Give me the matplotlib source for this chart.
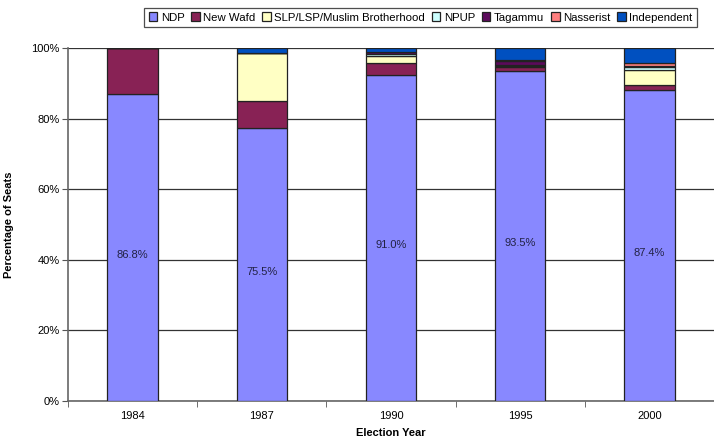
from matplotlib import rcParams
rcParams['font.family'] = ['Liberation Sans', 'DejaVu Sans']
import matplotlib.pyplot as plt
import numpy as np

# election data (share of seats, %)
years = ["1984", "1987", "1990", "1995", "2000"]
parties = ["NDP", "New Wafd", "SLP/LSP/Muslim Brotherhood", "NPUP", "Tagammu", "Nasserist", "Independent"]
ndp = [86.9, 77.2, 92.4, 93.4, 88.0]
new_wafd = [13.1, 7.8, 3.3, 1.3, 1.6]
slp = [0.0, 13.5, 2.0, 0.2, 4.3]
npup = [0.0, 0.0, 0.7, 0.3, 0.6]
tagammu = [0.0, 0.0, 0.4, 1.1, 0.5]
nasserist = [0.0, 0.0, 0.0, 0.2, 0.8]
independent = [0.0, 1.5, 1.2, 3.5, 4.2]
ndp_labels = ["86.8%", "75.5%", "91.0%", "93.5%", "87.4%"]

colors = ["#8888FF", "#882255", "#FFFFC4", "#CCFFFF", "#5C0A5C", "#FF7F7F", "#0050C0"]
series = [ndp, new_wafd, slp, npup, tagammu, nasserist, independent]

fig = plt.figure(figsize=(7.14, 4.42), dpi=100)
ax = fig.add_axes([0.0952, 0.0928, 0.9048, 0.7986])

x = np.arange(len(years))
bottom = np.zeros(len(years))
for name, vals, c in zip(parties, series, colors):
    ax.bar(x, vals, width=0.39, bottom=bottom, color=c, edgecolor="#222222",
           linewidth=0.9, label=name, zorder=3)
    bottom += np.array(vals)

for i, lab in enumerate(ndp_labels):
    ax.text(x[i], ndp[i] / 2 - 2, lab, ha="center", va="center", fontsize=8, color="#222244", zorder=4)

ax.set_xlim(-0.5, 4.465)
ax.set_ylim(0, 100)
ax.set_yticks(np.arange(0, 101, 20))
ax.set_yticklabels([f"{v}%" for v in range(0, 101, 20)], fontsize=8)
ax.yaxis.grid(True, color="#333333", linewidth=0.9, zorder=0)
ax.set_xticks(x)
ax.set_xticklabels(years, fontsize=8)
ax.set_xticks(np.arange(-0.5, 4.6, 1), minor=True)
ax.tick_params(axis="x", which="major", length=0, pad=7)
ax.tick_params(axis="x", which="minor", length=4, color="#555555", direction="out")
ax.tick_params(axis="y", length=4, color="#555555", pad=2)
for s in ["top", "right"]:
    ax.spines[s].set_visible(False)
for s in ["left", "bottom"]:
    ax.spines[s].set_color("#666666")
    ax.spines[s].set_linewidth(1.2)

ax.set_xlabel("Election Year", fontsize=8, fontweight="bold", labelpad=5)
ax.set_ylabel("Percentage of Seats", fontsize=8, fontweight="bold")
ax.yaxis.set_label_coords(-0.084, 0.5)

leg = fig.legend(loc="upper center", bbox_to_anchor=(0.589, 0.995), ncol=7, fontsize=8.2,
                 frameon=True, fancybox=False, edgecolor="#222222", handlelength=0.75,
                 handleheight=0.75, handletextpad=0.3, columnspacing=0.6, borderpad=0.4)
leg.get_frame().set_linewidth(0.9)

plt.savefig("out.png", dpi=100)
